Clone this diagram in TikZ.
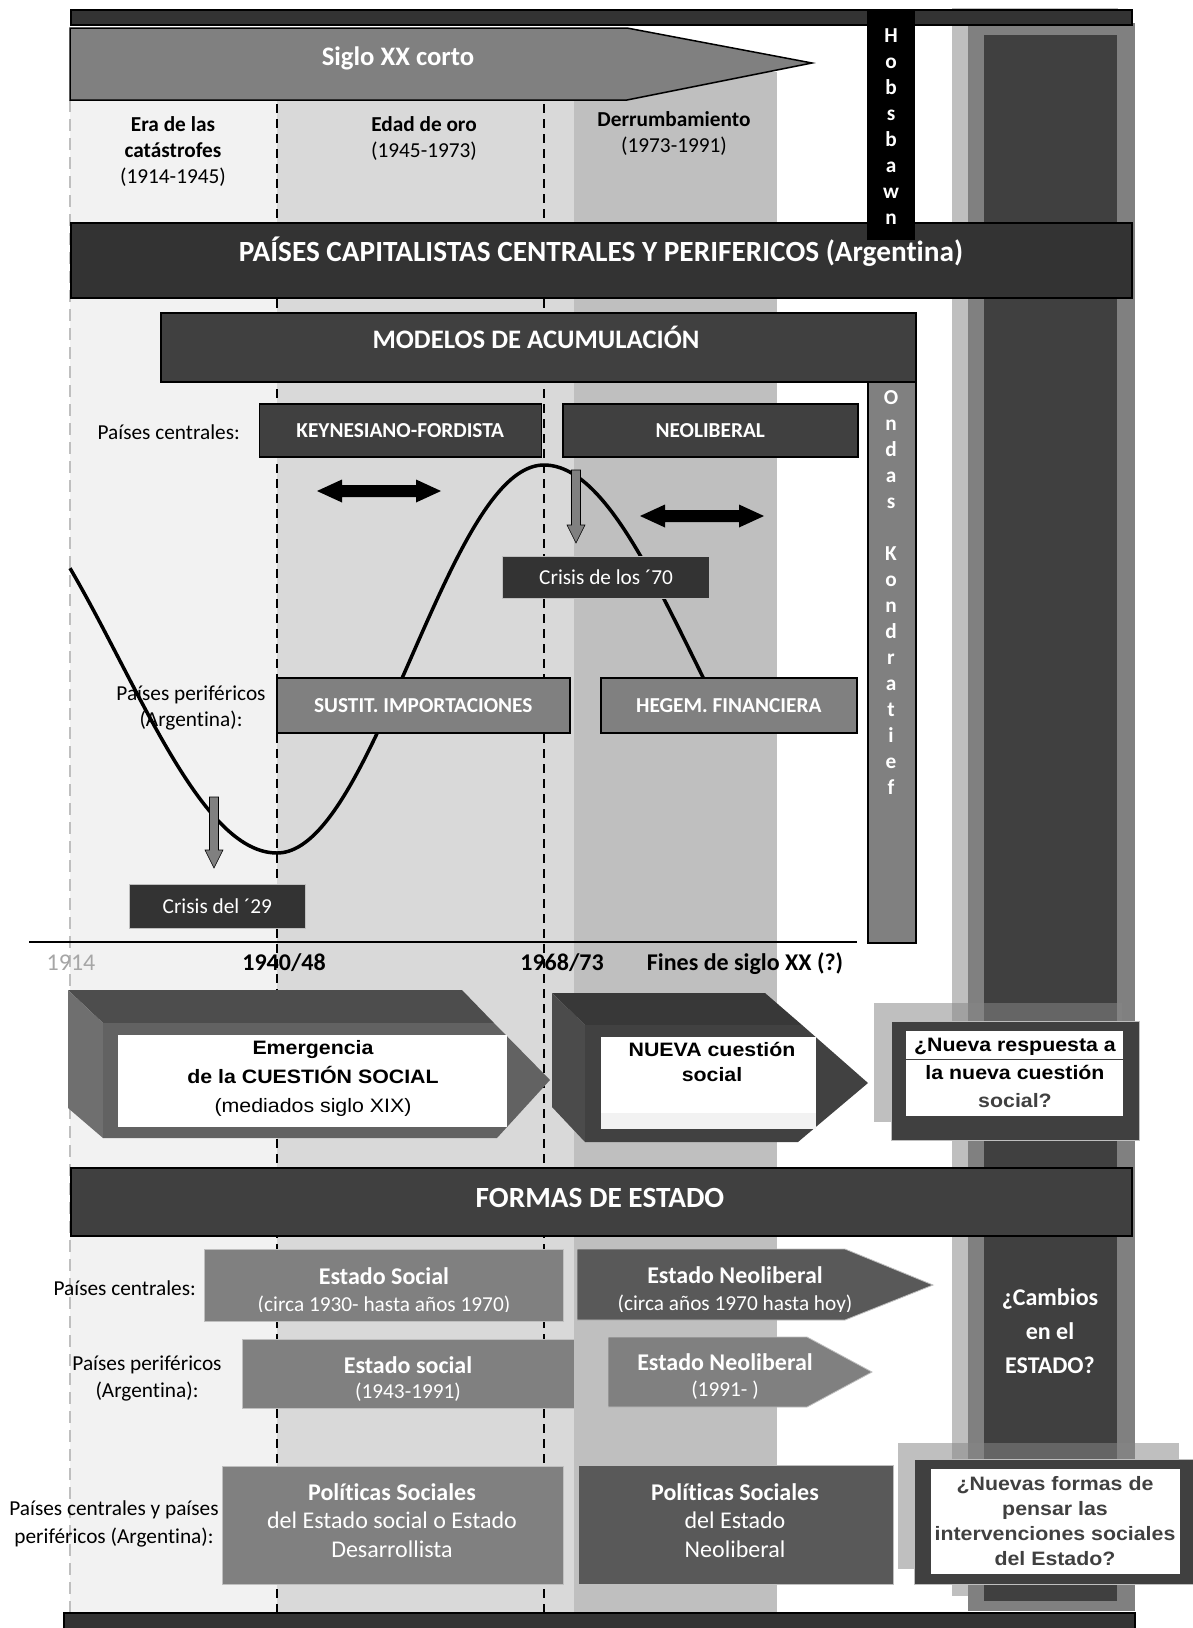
\documentclass[tikz,border=0pt]{standalone}
\usepackage{fontspec}
\setmainfont{Carlito}[Ligatures={NoCommon,NoContextual}, RawFeature={-calt;-dlig}]
\newfontfamily\arialfont[FakeStretch=1.1]{Liberation Sans}

\definecolor{gA}{HTML}{333333}
\definecolor{gB}{HTML}{404040}
\definecolor{gC}{HTML}{595959}
\definecolor{gD}{HTML}{808080}
\definecolor{gE}{HTML}{BFBFBF}
\definecolor{gF}{HTML}{D9D9D9}
\definecolor{gG}{HTML}{F2F2F2}
\definecolor{gH}{HTML}{A6A6A6}
\definecolor{gS}{HTML}{878787}
\definecolor{fTop}{HTML}{4D4D4D}
\definecolor{fLeft}{HTML}{6F6F6F}
\definecolor{fFront}{HTML}{626262}
\definecolor{nTop}{HTML}{383838}
\definecolor{nLeft}{HTML}{4B4B4B}
\definecolor{nFront}{HTML}{414141}

\newcommand\fsz[1]{\fontsize{#1}{#1}\selectfont}
% centred lines with a fixed distance between baselines; the box baseline is the first line
\newcommand\txtrows[2]{\vtop{\baselineskip=#1pt\lineskiplimit=-1000pt\lineskip=0pt\halign{\hfil##\hfil\cr#2\crcr}}}

\tikzset{
  darkbar/.style={draw=black, line width=1.5pt, fill=gA, inner sep=0pt, anchor=north west},
  midbar/.style={draw=black, line width=1.5pt, fill=gB, inner sep=0pt, anchor=north west},
  modelbox/.style={draw=black, line width=1.5pt, fill=gB, text=white, font=\bfseries\fsz{21.3}, inner sep=0pt, anchor=north west},
  periphbox/.style={draw=black, line width=1.5pt, fill=gD, text=white, font=\bfseries\fsz{21.3}, inner sep=0pt, anchor=north west},
  crisisbox/.style={draw=gE, line width=1.2pt, fill=gA, text=white, font=\fsz{21.3}, inner sep=0pt, anchor=north west},
  statebox/.style={draw=gE, line width=0.8pt, inner sep=0pt, anchor=north west},
  questbox/.style={draw=gE, line width=1pt, fill=gB, inner sep=0pt, anchor=north west},
  shadowbox/.style={fill=gS, fill opacity=0.53},
  txt/.style={anchor=base, inner sep=0pt, font=\fsz{21.3}},
  wtxt/.style={txt, text=white},
  atxt/.style={anchor=base, inner sep=0pt, font=\arialfont\fsz{19.4}},
  blockarrow/.style={fill=black},
  downarrow/.style={fill=gD, draw=black, line width=0.6pt},
  era/.style={line width=2pt, dash pattern=on 9pt off 6pt},
  wave/.style={line width=3.5pt, line join=round},
}

\begin{document}
\begin{tikzpicture}[x=1pt, y=-1pt]
\useasboundingbox (0,0) rectangle (1192,1628);
\fill[white] (0,0) rectangle (1192,1628);

% right-hand pillar
\fill[gE] (952,8) rectangle (1118,1596);
\fill[gD] (968,23) rectangle (1135,1611);
\fill[gB] (984,35) rectangle (1117,1601);

% period bands
\fill[gG] (70,72) rectangle (277,1612);
\fill[gF] (277,72) rectangle (574,1612);
\fill[gE] (574,72) rectangle (777,1612);

% period limits
\draw[gE, line width=2pt, dash pattern=on 12pt off 7pt] (70,100) -- (70,1612);
\draw[era] (277,104) -- (277,1612);
\draw[era] (544,104) -- (544,1612);

% top
\node[darkbar, minimum width=1061, minimum height=15] (topbar) at (70,9) {};
\filldraw[fill=gD, draw=black, line width=1.5pt] (70,28) -- (627,28) -- (812,63) -- (627,100) -- (70,100) -- cycle;
\node[wtxt, font=\bfseries\fsz{26.7}] (siglo) at (398,65.6) {Siglo XX corto};

\node[txt] (era1) at (173,131) {\txtrows{26}{\bfseries Era de las\cr\bfseries catástrofes\cr (1914-1945)}};
\node[txt] (era2) at (424,131) {\txtrows{26}{\bfseries Edad de oro\cr (1945-1973)}};
\node[txt] (era3) at (674,126) {\txtrows{26}{\bfseries Derrumbamiento\cr (1973-1991)}};

\node[darkbar, minimum width=1061, minimum height=75] (paisesbar) at (70,222) {};
\node[wtxt, font=\bfseries\fsz{29.3}] (paises) at (601,261.4) {PAÍSES CAPITALISTAS CENTRALES Y PERIFERICOS (Argentina)};

\node[fill=black, inner sep=0pt, anchor=north west, minimum width=48, minimum height=231] (hobbar) at (867,9) {};
\node[wtxt, font=\bfseries\fsz{21.3}] (hob) at (891,42) {\txtrows{26}{H\cr o\cr b\cr s\cr b\cr a\cr w\cr n}};

% accumulation models
\node[midbar, minimum width=755, minimum height=69] (modelosbar) at (160,312) {};
\node[wtxt, font=\bfseries\fsz{26.7}] (modelos) at (536,348.6) {MODELOS DE ACUMULACIÓN};

\node[draw=black, line width=1.5pt, fill=gD, inner sep=0pt, anchor=north west, minimum width=48, minimum height=561] (ondasbar) at (867,381) {};
\node[wtxt, font=\bfseries\fsz{21.3}] (ondas) at (891,404) {\txtrows{26}{O\cr n\cr d\cr a\cr s\cr \cr K\cr o\cr n\cr d\cr r\cr a\cr t\cr i\cr e\cr f}};

\node[txt, anchor=base east] (pc1) at (240,439) {Países centrales:};
\node[txt] (pp1) at (191,700) {\txtrows{26}{Países periféricos\cr (Argentina):}};

% long wave
\draw[wave] plot[domain=70:277, samples=70] (\x,{659+194*cos((\x-277)/316*180)})
  -- plot[domain=277:544, samples=90] (\x,{659+194*cos((\x-277)/267*180)})
  -- plot[domain=544:708, samples=60] (\x,{659-194*cos((\x-544)/300*180)});

\node[modelbox, minimum width=282, minimum height=53] (keyn) at (258.5,403) {KEYNESIANO-FORDISTA};
\node[modelbox, minimum width=295, minimum height=53] (neol) at (562,403) {NEOLIBERAL};
\node[periphbox, minimum width=293, minimum height=55] (sustit) at (276,677) {SUSTIT. IMPORTACIONES};
\node[periphbox, minimum width=256, minimum height=55] (hegem) at (600,677) {HEGEM. FINANCIERA};

\fill[blockarrow] (317,491) -- (342,479.5) -- (342,485) -- (416,485) -- (416,479.5) -- (441,491)
  -- (416,502.5) -- (416,497) -- (342,497) -- (342,502.5) -- cycle;
\fill[blockarrow] (640,516) -- (665,504.5) -- (665,510) -- (739,510) -- (739,504.5) -- (764,516)
  -- (739,527.5) -- (739,522) -- (665,522) -- (665,527.5) -- cycle;

\filldraw[downarrow] (571.5,470) -- (580.5,470) -- (580.5,525) -- (585,525) -- (576,543) -- (567,525) -- (571.5,525) -- cycle;
\node[crisisbox, minimum width=207, minimum height=42] (crisis70) at (502,556) {Crisis de los ´70};
\filldraw[downarrow] (209.5,797) -- (218.5,797) -- (218.5,850) -- (223,850) -- (214,868) -- (205,850) -- (209.5,850) -- cycle;
\node[crisisbox, minimum width=176.5, minimum height=44] (crisis29) at (128.5,884) {Crisis del ´29};

% time axis
\draw[line width=2pt] (29,942) -- (857,942);
\node[txt, font=\fsz{24}, text=gH] (y1914) at (71,970) {1914};
\node[txt, font=\bfseries\fsz{24}] (y1940) at (284,970) {1940/48};
\node[txt, font=\bfseries\fsz{24}] (y1968) at (562,970) {1968/73};
\node[txt, font=\bfseries\fsz{24}] (yfin) at (745,970) {Fines de siglo XX (?)};

% social question blocks
\fill[fTop] (68,990) -- (462,990) -- (494,1023) -- (103,1023) -- cycle;
\fill[fLeft] (68,990) -- (103,1023) -- (103,1138) -- (68,1108) -- cycle;
\fill[fFront] (103,1023) -- (494,1023) -- (550,1080) -- (497,1138) -- (103,1138) -- cycle;
\fill[white] (118,1035) rectangle (507,1127);
\node[atxt] (emerg) at (313,1054) {\txtrows{29}{\bfseries Emergencia\cr\bfseries de la CUESTIÓN SOCIAL\cr (mediados siglo XIX)}};

\fill[nTop] (552,993) -- (765,993) -- (802,1025) -- (585,1025) -- cycle;
\fill[nLeft] (552,993) -- (585,1025) -- (585,1142) -- (552,1107) -- cycle;
\fill[nFront] (585,1025) -- (802,1025) -- (868,1083) -- (798,1142) -- (585,1142) -- cycle;
\fill[white] (601,1037) rectangle (816,1113);
\fill[gG] (601,1113) rectangle (816,1129);
\node[atxt] (nueva) at (712,1056) {\txtrows{25}{\bfseries NUEVA cuestión\cr\bfseries social}};

\fill[shadowbox] (874,1003) rectangle (1122,1122);
\node[questbox, minimum width=248, minimum height=119] (qbox1) at (891,1021) {};
\fill[white] (906,1031) rectangle (1123,1116);
\draw[gB, line width=1pt] (906,1059) -- (1123,1059);
\node[atxt] (q1) at (1015,1051) {\txtrows{28}{\bfseries ¿Nueva respuesta a\cr\bfseries la nueva cuestión\cr\bfseries\textcolor{gB}{social?}}};

% forms of the state
\node[midbar, minimum width=1061, minimum height=68] (formasbar) at (70,1167) {};
\node[wtxt, font=\bfseries\fsz{29.3}] (formas) at (600,1207.5) {FORMAS DE ESTADO};

\node[txt, anchor=base east] (pc2) at (196,1295) {Países centrales:};
\node[txt] (pp2) at (147,1370) {\txtrows{27}{Países periféricos\cr (Argentina):}};

\node[statebox, fill=gD, minimum width=359, minimum height=72] (esoc) at (204,1249) {};
\node[wtxt, font=\bfseries\fsz{24}] (esoct) at (384,1284.7) {Estado Social};
\begin{scope}
  \clip (204,1290) rectangle (563,1311.6);
  \node[wtxt] (esocs) at (384,1311) {(circa 1930- hasta años 1970)};
\end{scope}

\filldraw[fill=gC, draw=gE, line width=0.8pt] (577,1249) -- (845,1249) -- (933,1285) -- (845,1320) -- (577,1320) -- cycle;
\node[wtxt, font=\bfseries\fsz{24}] (eneot) at (735,1283.3) {Estado Neoliberal};
\begin{scope}
  \clip (577,1290) rectangle (900,1311);
  \node[wtxt] (eneos) at (735,1310.7) {(circa años 1970 hasta hoy)};
\end{scope}

\node[statebox, fill=gD, minimum width=332, minimum height=69] (esocp) at (242,1339) {};
\node[wtxt, font=\fsz{24}] (esocpt) at (408,1373) {\txtrows{25}{\bfseries Estado social\cr \fsz{21.3}(1943-1991)}};

\filldraw[fill=gD, draw=gE, line width=0.8pt] (608,1337) -- (807,1337) -- (872,1372) -- (807,1407) -- (608,1407) -- cycle;
\node[wtxt, font=\fsz{24}] (eneop) at (725,1370) {\txtrows{26.7}{\bfseries Estado Neoliberal\cr \fsz{21.3}(1991- )}};

\node[wtxt, font=\bfseries\fsz{24}] (cambios) at (1050,1305) {\txtrows{34}{¿Cambios\cr en el\cr ESTADO?}};

% social policies
\node[txt] (pcp) at (114,1515) {\txtrows{28}{Países centrales y países\cr periféricos (Argentina):}};
\node[statebox, fill=gD, minimum width=341, minimum height=118] (pol1) at (222,1466) {};
\node[wtxt, font=\fsz{24}] (pol1t) at (392,1500) {\txtrows{28.5}{\bfseries Políticas Sociales\cr del Estado social o Estado\cr Desarrollista}};
\node[statebox, fill=gC, minimum width=315, minimum height=119] (pol2) at (578,1465) {};
\node[wtxt, font=\fsz{24}] (pol2t) at (735,1500) {\txtrows{28.5}{\bfseries Políticas Sociales\cr del Estado\cr Neoliberal}};

\fill[shadowbox] (898,1443) rectangle (1179,1569);
\node[questbox, minimum width=279, minimum height=125] (qbox2) at (914,1459) {};
\fill[white] (931,1469) rectangle (1180,1574);
\node[atxt, text=gB] (q2) at (1055,1490) {\txtrows{25}{\bfseries ¿Nuevas formas de\cr\bfseries pensar las\cr\bfseries intervenciones sociales\cr\bfseries del Estado?}};

\node[darkbar, minimum width=1071, minimum height=30] (bottombar) at (63,1612) {};
\end{tikzpicture}
\end{document}
